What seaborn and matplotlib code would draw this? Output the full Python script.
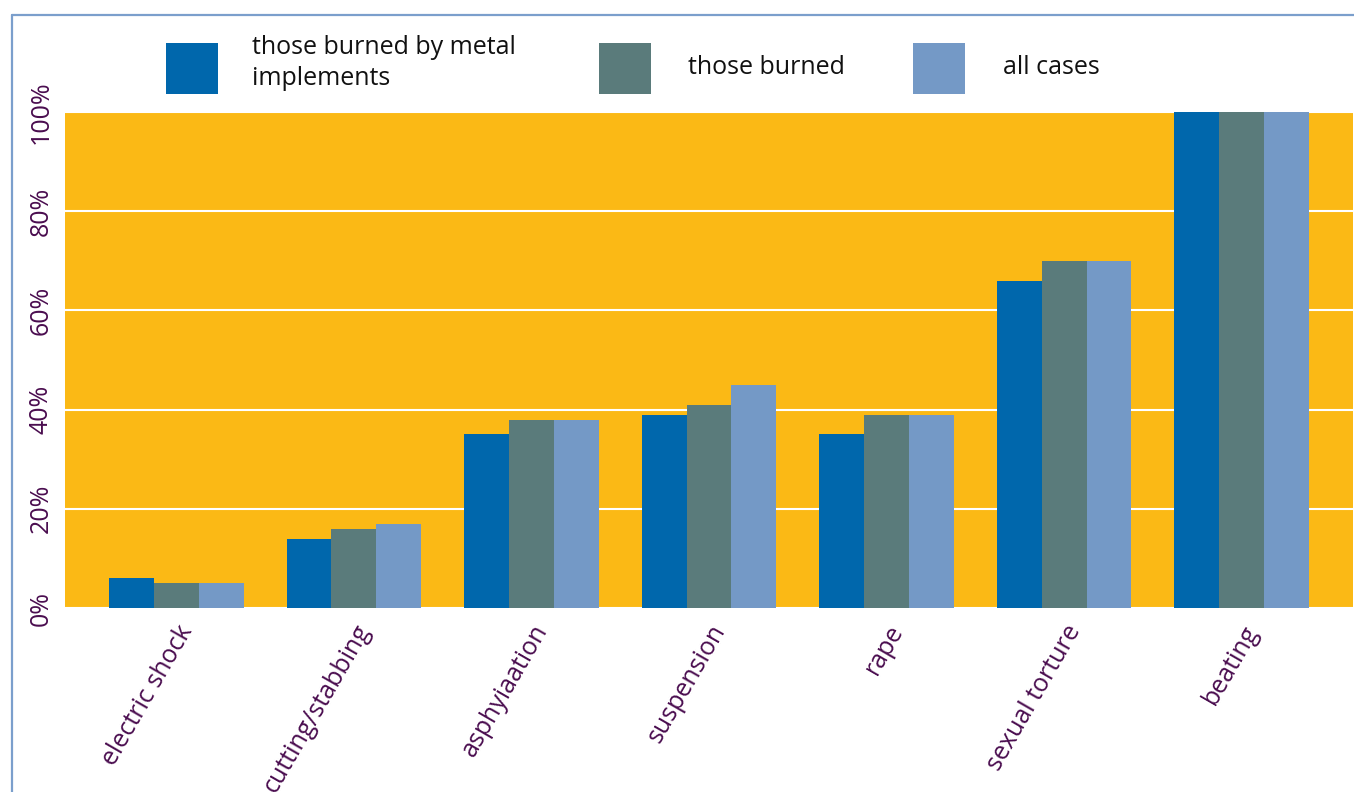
import matplotlib
matplotlib.use("Agg")
import matplotlib.pyplot as plt
import seaborn as sns
import pandas as pd
from matplotlib.patches import Rectangle
from matplotlib.lines import Line2D

categories = ["electric shock", "cutting/stabbing", "asphyiaation", "suspension",
              "rape", "sexual torture", "beating"]
series_names = ["those burned by metal\nimplements", "those burned", "all cases"]
metal = [6, 14, 35, 39, 35, 66, 100]
burned = [5, 16, 38, 41, 39, 70, 100]
all_cases = [5, 17, 38, 45, 39, 70, 100]
yticks = [0, 20, 40, 60, 80, 100]
ytick_labels = ["0%", "20%", "40%", "60%", "80%", "100%"]

colors = ["#0067AC", "#5A7B7B", "#7499C6"]
orange = "#FBB915"
purple = "#4A0D4F"

rows = []
for s, vals in zip(series_names, [metal, burned, all_cases]):
    for c, v in zip(categories, vals):
        rows.append({"category": c, "series": s, "value": v})
df = pd.DataFrame(rows)

sns.set_style("white")
plt.rcParams["font.family"] = ["Open Sans", "DejaVu Sans"]

W, H = 1354, 792
fig = plt.figure(figsize=(W / 100, H / 100), dpi=100)
ax = fig.add_axes([65 / W, (H - 608) / H, (1353 - 65) / W, (608 - 112) / H])
ax.set_facecolor(orange)

sns.barplot(data=df, x="category", y="value", hue="series", order=categories,
            hue_order=series_names, palette=colors, width=0.76, saturation=1,
            linewidth=0, ax=ax, legend=False, zorder=3)

ax.set_ylim(0, 100)
ax.set_xlim(-0.628, 6.628)
ax.set_yticks(yticks)
ax.set_yticklabels(ytick_labels, rotation=90, va="center", color=purple, fontsize=18)
ax.set_xticks(range(len(categories)))
ax.set_xticklabels(categories, rotation=60, ha="right", rotation_mode="anchor",
                   color=purple, fontsize=18)
ax.tick_params(axis="both", length=0)
ax.tick_params(axis="y", pad=8)
ax.tick_params(axis="x", pad=9)
ax.set_xlabel("")
ax.set_ylabel("")
for sp in ax.spines.values():
    sp.set_visible(False)
ax.yaxis.grid(True, color="white", linewidth=1.5, zorder=1)
ax.set_axisbelow(True)

# outer frame
fig.add_artist(Line2D([12 / W, 12 / W], [0, 1 - 15 / H], transform=fig.transFigure,
                      color="#7B9FCC", linewidth=1.6))
fig.add_artist(Line2D([12 / W, 1], [1 - 15 / H, 1 - 15 / H], transform=fig.transFigure,
                      color="#7B9FCC", linewidth=1.6))

# legend
leg_x = [166, 599, 913]
txt_x = [252, 688, 1003]
for lx, tx, col, name in zip(leg_x, txt_x, colors, series_names):
    fig.add_artist(Rectangle((lx / W, 1 - 94 / H), 52 / W, 51 / H,
                             transform=fig.transFigure, facecolor=col, edgecolor="none"))
    ty = 63 if "\n" in name else 67
    fig.text(tx / W, 1 - ty / H, name, ha="left", va="center", fontsize=18,
             color="#111111", linespacing=1.3)

fig.savefig("out.png", dpi=100)
